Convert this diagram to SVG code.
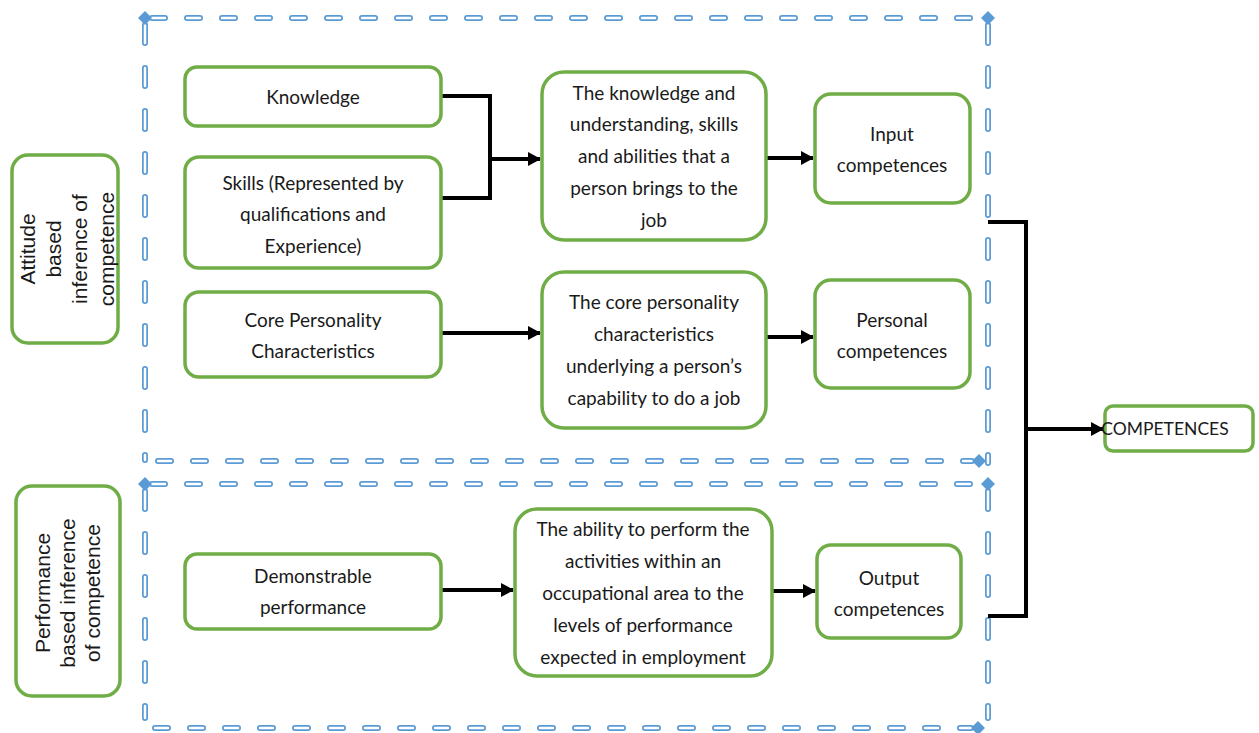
<svg xmlns="http://www.w3.org/2000/svg" width="1259" height="733" viewBox="0 0 1259 733">
<style>
.box{fill:#fff;stroke:#70AD47;stroke-width:3.5}
.t{font-family:Lato,"Liberation Sans",sans-serif;font-size:19px;fill:#1a1a1a;text-anchor:middle}
.lt{font-family:"Liberation Sans",Arial,sans-serif;font-size:21px;fill:#1a1a1a;text-anchor:middle}
.dh{fill:none;stroke:#5B9BD5;stroke-width:6;stroke-linecap:round;stroke-dasharray:13 22}
.dhi{fill:none;stroke:#fff;stroke-width:2.5;stroke-linecap:round;stroke-dasharray:13 22}
.dv{fill:none;stroke:#5B9BD5;stroke-width:6;stroke-linecap:round;stroke-dasharray:18 25}
.dvi{fill:none;stroke:#fff;stroke-width:2.5;stroke-linecap:round;stroke-dasharray:18 25}
.dia{fill:#5B9BD5}
.c{fill:none;stroke:#000;stroke-width:4}
</style>
<defs>
<marker id="ah" markerUnits="userSpaceOnUse" markerWidth="14" markerHeight="14" refX="12" refY="7" orient="auto">
<path d="M0,0 L13,7 L0,14 Z" fill="#000"/>
</marker>
<path id="dm" d="M0,-7 L7,0 L0,7 L-7,0 Z"/>
</defs>

<g id="frames">
<path class="dh" d="M152,18 H981"/><path class="dhi" d="M152,18 H981"/>
<path class="dv" d="M145,25 V460"/><path class="dvi" d="M145,25 V460"/>
<path class="dv" d="M988,25 V463"/><path class="dvi" d="M988,25 V463"/>
<path class="dh" d="M158,461 H972"/><path class="dhi" d="M158,461 H972"/>
<use href="#dm" class="dia" x="145" y="18"/>
<use href="#dm" class="dia" x="988" y="18"/>
<use href="#dm" class="dia" x="979" y="461"/>

<path class="dh" d="M152,484 H981"/><path class="dhi" d="M152,484 H981"/>
<path class="dv" d="M145,491 V718"/><path class="dvi" d="M145,491 V718"/>
<path class="dv" d="M988,491 V718"/><path class="dvi" d="M988,491 V718"/>
<path class="dh" d="M155,728 H971"/><path class="dhi" d="M155,728 H971"/>
<use href="#dm" class="dia" x="145" y="484"/>
<use href="#dm" class="dia" x="988" y="484"/>
<use href="#dm" class="dia" x="978" y="728"/>
</g>

<g id="connectors">
<path class="c" d="M441,96 H490 V198 H441"/>
<path class="c" d="M490,159 H540" marker-end="url(#ah)"/>
<path class="c" d="M766,158 H813" marker-end="url(#ah)"/>
<path class="c" d="M441,333 H540" marker-end="url(#ah)"/>
<path class="c" d="M766,337 H813" marker-end="url(#ah)"/>
<path class="c" d="M441,590 H513" marker-end="url(#ah)"/>
<path class="c" d="M772,591 H815" marker-end="url(#ah)"/>
<path class="c" d="M988,222 H1026 V616 H988"/>
<path class="c" d="M1026,429 H1103" marker-end="url(#ah)"/>
</g>

<g id="attitude">
<rect class="box" x="12" y="155" width="106" height="188" rx="16"/>
<g transform="translate(65,249) rotate(-90)">
<text class="lt" x="0" y="-30">Attitude</text>
<text class="lt" x="0" y="-4">based</text>
<text class="lt" x="0" y="22">inference of</text>
<text class="lt" x="0" y="49">competence</text>
</g>
</g>

<g id="performance">
<rect class="box" x="16" y="486" width="104" height="210" rx="16"/>
<g transform="translate(68,593) rotate(-90)">
<text class="lt" x="0" y="-18">Performance</text>
<text class="lt" x="0" y="7">based inference</text>
<text class="lt" x="0" y="32">of competence</text>
</g>
</g>

<g id="knowledge">
<rect class="box" x="185" y="67" width="256" height="59" rx="12"/>
<text class="t" x="313" y="104">Knowledge</text>
</g>

<g id="skills">
<rect class="box" x="185" y="157" width="256" height="111" rx="14"/>
<text class="t" x="313" y="190">Skills (Represented by</text>
<text class="t" x="313" y="221">qualifications and</text>
<text class="t" x="313" y="253">Experience)</text>
</g>

<g id="core">
<rect class="box" x="185" y="292" width="256" height="85" rx="14"/>
<text class="t" x="313" y="327">Core Personality</text>
<text class="t" x="313" y="358">Characteristics</text>
</g>

<g id="ksa">
<rect class="box" x="542" y="72" width="224" height="168" rx="22"/>
<text class="t" x="654" y="100">The knowledge and</text>
<text class="t" x="654" y="131">understanding, skills</text>
<text class="t" x="654" y="163">and abilities that a</text>
<text class="t" x="654" y="195">person brings to the</text>
<text class="t" x="654" y="227">job</text>
</g>

<g id="personality">
<rect class="box" x="542" y="272" width="224" height="156" rx="22"/>
<text class="t" x="654" y="309">The core personality</text>
<text class="t" x="654" y="341">characteristics</text>
<text class="t" x="654" y="373">underlying a person’s</text>
<text class="t" x="654" y="405">capability to do a job</text>
</g>

<g id="input">
<rect class="box" x="815" y="94" width="155" height="109" rx="16"/>
<text class="t" x="892" y="141">Input</text>
<text class="t" x="892" y="172">competences</text>
</g>

<g id="personal">
<rect class="box" x="815" y="280" width="155" height="108" rx="16"/>
<text class="t" x="892" y="327">Personal</text>
<text class="t" x="892" y="358">competences</text>
</g>

<g id="competences">
<rect class="box" x="1105" y="406" width="148" height="45" rx="8"/>
<text class="t" x="1165" y="435" style="font-size:17.5px">COMPETENCES</text>
</g>

<g id="demonstrable">
<rect class="box" x="185" y="554" width="256" height="75" rx="12"/>
<text class="t" x="313" y="583">Demonstrable</text>
<text class="t" x="313" y="614">performance</text>
</g>

<g id="ability">
<rect class="box" x="515" y="509" width="257" height="167" rx="22"/>
<text class="t" x="643" y="536">The ability to perform the</text>
<text class="t" x="643" y="568">activities within an</text>
<text class="t" x="643" y="600">occupational area to the</text>
<text class="t" x="643" y="632">levels of performance</text>
<text class="t" x="643" y="664">expected in employment</text>
</g>

<g id="output">
<rect class="box" x="817" y="545" width="144" height="93" rx="14"/>
<text class="t" x="889" y="585">Output</text>
<text class="t" x="889" y="616">competences</text>
</g>
</svg>
